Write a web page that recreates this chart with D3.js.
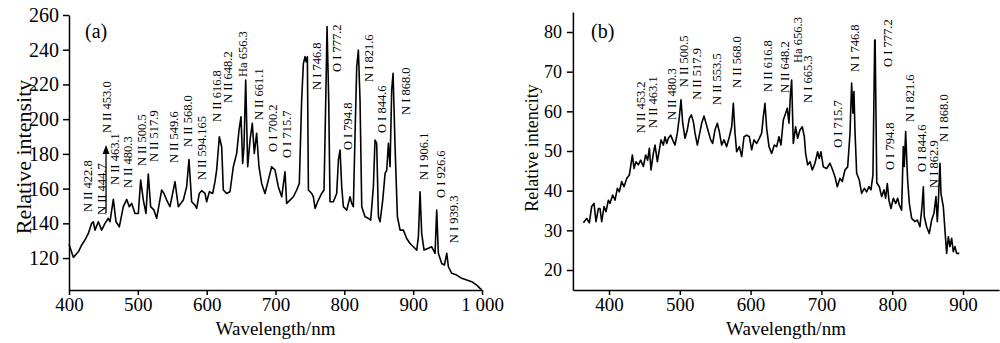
<!DOCTYPE html>
<html><head><meta charset="utf-8">
<script src="https://cdn.jsdelivr.net/npm/d3@7"></script>
<style>
body{margin:0;background:#fff}
svg{display:block}
text{font-family:"Liberation Serif","Times New Roman",serif;fill:#000}
</style>
</head><body>
<svg id="chart" width="1000" height="343"></svg>
<script>
// ---------- Panel (a) data ----------
const wavelengthA = [400.0,406.3,413.5,418.4,423.2,428.1,432.9,435.3,437.8,442.6,447.4,452.3,457.1,459.5,464.4,468.3,473.1,478.9,483.8,487.6,491.0,495.9,500.7,504.1,508.0,511.8,515.2,518.6,523.5,527.3,531.2,534.6,538.0,541.9,546.7,554.0,558.8,566.1,570.9,574.3,578.2,583.0,585.5,589.3,592.7,597.6,600.0,603.9,608.7,612.1,614.5,618.4,621.8,624.2,629.0,633.9,638.7,643.6,647.0,649.9,652.3,654.2,656.7,659.6,663.0,666.3,669.2,672.6,676.0,679.9,684.7,689.6,694.4,699.3,704.1,709.0,713.8,716.2,721.1,725.9,730.8,734.6,738.0,740.5,742.9,744.5,746.3,747.8,752.6,755.0,757.5,762.3,767.1,770.5,773.0,774.9,777.3,779.2,784.1,788.9,791.4,793.8,796.2,798.6,803.5,808.3,810.7,813.1,815.6,818.0,820.4,822.8,825.3,830.1,834.9,838.3,842.2,844.6,847.0,849.5,851.9,855.8,859.2,861.6,864.0,866.4,868.8,870.8,873.7,877.1,881.0,885.8,890.6,895.5,900.3,905.2,907.6,910.0,912.4,915.8,922.1,927.0,931.8,934.2,936.6,941.5,945.4,948.8,951.2,956.0,963.3,970.5,977.8,985.1,992.3,997.2,999.6];
const intensityA = [128.0,120.4,123.6,127.5,130.4,134.2,140.0,140.9,136.1,140.9,136.1,140.0,142.9,140.9,153.8,140.9,138.0,149.6,153.8,149.6,151.5,145.7,145.7,164.9,153.4,145.7,168.4,149.6,147.6,142.9,151.5,159.2,157.2,153.4,149.6,164.0,149.6,153.4,161.1,176.8,152.4,150.5,148.6,157.2,158.8,157.2,152.4,158.2,157.2,164.0,170.7,189.9,184.1,159.2,157.2,158.2,172.6,180.3,193.7,201.4,174.5,184.1,222.5,172.6,188.0,197.6,180.3,191.8,172.6,163.0,157.2,164.9,172.6,170.7,161.1,155.3,169.7,151.5,153.4,155.3,159.2,163.0,211.0,232.0,236.0,233.0,236.0,159.2,157.2,155.3,148.6,153.4,157.2,159.2,211.0,253.3,211.0,152.4,152.4,157.2,176.5,182.2,161.1,149.6,147.6,155.3,151.5,149.6,191.8,230.2,239.8,211.0,149.6,143.8,142.9,141.9,161.1,188.0,186.1,143.8,140.9,153.4,168.8,170.7,186.1,172.6,216.8,226.4,184.1,143.8,136.1,136.1,131.3,128.4,126.5,124.6,132.3,158.2,134.2,124.6,125.6,126.5,122.7,147.6,122.7,116.9,116.0,122.7,115.0,111.2,110.2,108.3,107.3,106.4,104.4,102.5,101.8];
const xTicksA = [400,500,600,700,800,900,1000];
const yTicksA = [120,140,160,180,200,220,240,260];
// label text, wavelength of label, intensity at label start
const labelsA = [
  ["N II 422.8",427.6,146.5],["N II 444.7",447.9,144.8],["N II 453.0",455.2,192.0],
  ["N II 463.1",466.8,162.1],["N II 480.3",485.7,160.3],["N II 500.5",506.1,173.0],
  ["N II 517.9",523.5,175.3],["N II 549.6",552.5,174.7],["N II 568.0",572.9,184.0],
  ["N II 594.165",593.2,164.9],["N II 616.8",615.0,198.4],["N II 648.2",631.0,209.3],
  ["Ha 656.3",652.8,224.3],["N II 661.1",676.0,199.5],["O I 700.2",696.4,181.1],
  ["O I 715.7",716.7,177.6],["N I 746.8",760.3,216.8],["O I 777.2",789.4,227.2],
  ["O I 794.8",805.3,182.2],["N I 821.6",835.9,221.4],["O I 844.6",854.7,192.0],
  ["N I 868.0",889.6,202.4],["N I 906.1",915.8,164.9],["O I 926.6",940.5,154.6],
  ["N I 939.3",959.4,128.6]
];
const arrowA = [453.8,145.9,185.1]; // wavelength, from, to

// ---------- Panel (b) data ----------
const wavelengthB = [363.8,368.5,372.2,375.5,378.8,381.6,385.0,387.3,389.7,393.0,395.8,399.1,401.4,405.2,408.5,411.8,414.6,417.9,421.2,425.0,428.7,430.6,433.0,435.3,438.1,441.4,444.7,448.5,451.8,454.6,457.0,459.3,462.6,465.0,468.3,471.1,473.5,476.8,479.1,481.5,483.8,487.1,489.9,493.2,496.5,499.4,501.7,504.1,507.4,510.6,513.5,516.3,519.1,521.5,524.8,527.6,530.9,534.2,537.0,540.3,543.6,546.4,549.7,553.0,555.8,559.1,562.4,566.2,570.0,573.3,575.6,578.0,580.3,584.1,587.4,590.7,594.5,598.2,601.5,604.8,608.6,612.3,615.6,618.0,620.3,622.7,626.0,629.7,633.5,636.8,640.1,642.9,646.2,649.5,651.8,654.2,656.1,658.0,660.3,663.6,666.4,669.7,673.0,675.9,677.7,680.6,683.9,687.2,690.9,694.7,697.0,699.4,702.7,707.4,712.1,715.9,719.2,722.5,726.2,729.5,733.3,737.1,740.4,742.7,744.6,746.0,747.4,749.8,753.5,756.8,760.6,763.9,767.2,770.0,772.8,775.3,775.9,778.2,781.8,785.1,788.4,790.7,793.1,795.4,798.3,801.6,804.9,807.7,810.0,813.3,815.7,817.1,819.0,820.4,821.8,824.2,827.5,832.2,835.5,839.2,842.1,844.0,845.3,848.6,852.4,855.7,859.0,861.8,863.7,865.1,867.5,868.9,872.2,874.5,876.9,879.3,881.6,884.0,886.3,888.7,891.0,894.8];
const intensityB = [31.9,33.0,31.9,36.0,36.8,32.2,35.5,35.5,32.2,36.0,34.7,37.6,36.8,38.9,37.6,40.6,39.7,42.3,41.0,43.1,43.9,46.1,49.0,45.6,47.3,46.5,47.7,46.1,49.0,47.7,50.7,45.2,49.4,51.5,47.3,50.3,52.8,51.5,53.6,51.9,53.2,54.0,52.8,51.5,54.5,58.7,62.9,57.0,53.2,55.3,58.2,59.1,57.4,54.5,51.5,54.0,57.0,58.8,57.0,54.9,52.8,51.9,55.3,57.0,54.9,51.5,52.8,51.1,53.6,56.1,62.0,54.5,49.8,51.1,48.6,53.6,54.0,53.6,50.3,52.8,51.9,53.2,54.5,58.7,62.0,55.7,51.1,49.4,51.5,51.1,53.6,51.5,57.8,59.5,60.8,57.0,63.7,67.9,51.9,56.1,53.2,55.3,56.1,53.6,49.4,46.5,47.3,45.2,46.9,49.8,48.1,49.8,46.0,45.6,46.9,45.2,43.5,41.0,43.1,42.3,45.2,46.0,54.4,67.1,59.5,65.0,55.3,44.4,42.7,39.3,40.6,39.7,41.0,40.2,44.0,78.0,78.0,42.0,41.0,38.5,40.2,38.1,41.8,37.6,35.5,38.1,36.8,38.1,36.4,35.1,51.1,46.1,54.9,48.6,42.7,36.8,33.0,32.2,32.6,30.9,36.0,41.0,33.5,30.9,29.2,32.6,34.3,38.5,32.2,36.8,46.9,39.3,36.0,30.1,24.2,28.4,25.9,28.0,24.6,25.9,24.2,24.2];
const xTicksB = [400,500,600,700,800,900];
const yTicksB = [20,30,40,50,60,70,80];
const labelsB = [
  ["N II 453.2",445.2,54.5],["N II 463.1",462.1,55.8],["N II 480.3",489.0,57.8],
  ["N II 500.5",505.9,66.1],["N II 517.9",524.3,62.9],["N II 553.5",552.5,61.6],
  ["N II 568.0",580.8,65.9],["N II 616.8",624.6,64.9],["N II 648.2",648.6,64.6],
  ["Ha 656.3",667.0,72.2],["N I 665.3",681.1,62.1],["O I 715.7",723.4,50.8],
  ["N I 746.8",747.5,69.9],["O I 777.2",794.1,71.2],["O I 794.8",796.9,45.2],
  ["N I 821.6",825.1,57.3],["O I  844.6",842.1,44.7],["N I 862.9",859.0,40.7],
  ["N I 868.0",873.2,52.3]
];

// ---------- Drawing ----------
const svg = d3.select("#chart");

function panel(cfg){
  const g = svg.append("g");
  const x = d3.scaleLinear().domain(cfg.xDomain).range(cfg.xRange);
  const y = d3.scaleLinear().domain(cfg.yDomain).range(cfg.yRange);

  const xAxis = d3.axisBottom(x).tickValues(cfg.xTicks).tickSize(5).tickSizeOuter(0).tickPadding(3)
    .tickFormat(d => d === 1000 ? "1 000" : String(d));
  const yAxis = d3.axisLeft(y).tickValues(cfg.yTicks).tickSize(6).tickSizeOuter(0).tickPadding(cfg.yPad);

  const gx = g.append("g").attr("transform", `translate(0,${cfg.yRange[0]})`).call(xAxis);
  gx.selectAll("text").style("font-size", "19px").style("font-family",'"Liberation Serif",serif');
  const gy = g.append("g").attr("transform", `translate(${cfg.xRange[0]},0)`).call(yAxis);
  gy.selectAll("text").style("font-size", cfg.yTickFont).style("font-family",'"Liberation Serif",serif');
  g.selectAll(".domain, .tick line").attr("stroke", "#000").attr("stroke-width", 1.5);

  const line = d3.line().x(d => x(d[0])).y(d => y(d[1]));
  const pts = cfg.wl.map((w, i) => [w, cfg.val[i]]);
  g.append("path").datum(pts).attr("d", line)
    .attr("fill", "none").attr("stroke", "#000").attr("stroke-width", 1.6)
    .attr("stroke-linejoin", "round");

  g.selectAll("text.lab").data(cfg.labels).enter().append("text")
    .attr("class", "lab")
    .attr("transform", d => `translate(${x(d[1])},${y(d[2])}) rotate(-90)`)
    .attr("dy", "0.35em")
    .style("font-size", "12.5px")
    .text(d => d[0]);

  // axis titles
  g.append("text")
    .attr("x", (cfg.xRange[0] + cfg.xRange[1]) / 2 + cfg.xTitleShift).attr("y", 335)
    .attr("text-anchor", "middle").style("font-size", "19px").text("Wavelength/nm");
  g.append("text")
    .attr("transform", `translate(${cfg.yTitleX},${cfg.yTitleY}) rotate(-90)`)
    .attr("text-anchor", "middle").attr("dy", "0.35em").style("font-size", cfg.yTitleFont).text(cfg.yTitle);

  g.append("text").attr("x", cfg.tagX).attr("y", 38).style("font-size", "20px").text(cfg.tag);
  return {g, x, y};
}

const A = panel({
  xDomain:[400,1000], xRange:[69,482], yDomain:[101.6,260], yRange:[290,15],
  xTicks:xTicksA, yTicks:yTicksA, yPad:4, yTickFont:"20px",
  wl:wavelengthA, val:intensityA, labels:labelsA,
  yTitle:"Relative intensity", yTitleX:23, yTitleY:157, yTitleFont:"22px",
  xTitleShift:0, tag:"(a)", tagX:85
});
// arrow in panel (a)
A.g.append("line")
  .attr("x1", A.x(arrowA[0])).attr("x2", A.x(arrowA[0]))
  .attr("y1", A.y(arrowA[1])).attr("y2", A.y(arrowA[2]) + 7)
  .attr("stroke", "#000").attr("stroke-width", 1.3);
A.g.append("path")
  .attr("d", `M${A.x(arrowA[0])},${A.y(arrowA[2])} l-3.5,9 l7,0 z`)
  .attr("fill", "#000");

panel({
  xDomain:[349,951], xRange:[572.9,999.1], yDomain:[14.96,85.04], yRange:[290,12],
  xTicks:xTicksB, yTicks:yTicksB, yPad:5, yTickFont:"18px",
  wl:wavelengthB, val:intensityB, labels:labelsB,
  yTitle:"Relative intencity", yTitleX:532, yTitleY:148, yTitleFont:"18px",
  xTitleShift:0, tag:"(b)", tagX:591
});
</script>
</body></html>
